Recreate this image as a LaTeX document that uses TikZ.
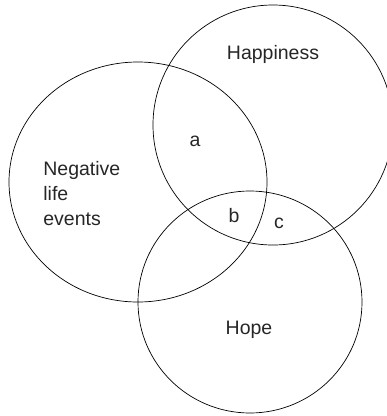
\documentclass[tikz,border=0pt]{standalone}
\usepackage{fontspec}
\setmainfont{Liberation Sans}
\begin{document}
\begin{tikzpicture}[x=1pt, y=-1pt, line width=0.7pt,
    lbl/.style={text=black!85, font=\fontsize{19.5}{25}\selectfont, inner sep=0pt}]
  \useasboundingbox (0,0) rectangle (387,416);
  \clip (0,0) rectangle (387,416);
  % Drei Kreise (Mittelpunkt / Radien)
  \foreach \cx/\cy/\rx/\ry in {138/182/129/120, 273/125/120/120, 250/302/112/111} {
    \draw (\cx,\cy) ellipse [x radius=\rx, y radius=\ry];
  }
  % Beschriftungen
  \node[lbl, anchor=base] (hap) at (273,59) {Happiness};
  \node[lbl, anchor=base] (hope) at (249,334) {Hope};
  \node[lbl, anchor=base west, align=left] (neg) at (43,225) {Negative\\life\\events};
  \node[lbl, anchor=base] (a) at (195,146) {a};
  \node[lbl, anchor=base] (b) at (234,222) {b};
  \node[lbl, anchor=base] (c) at (279,228) {c};
\end{tikzpicture}
\end{document}
